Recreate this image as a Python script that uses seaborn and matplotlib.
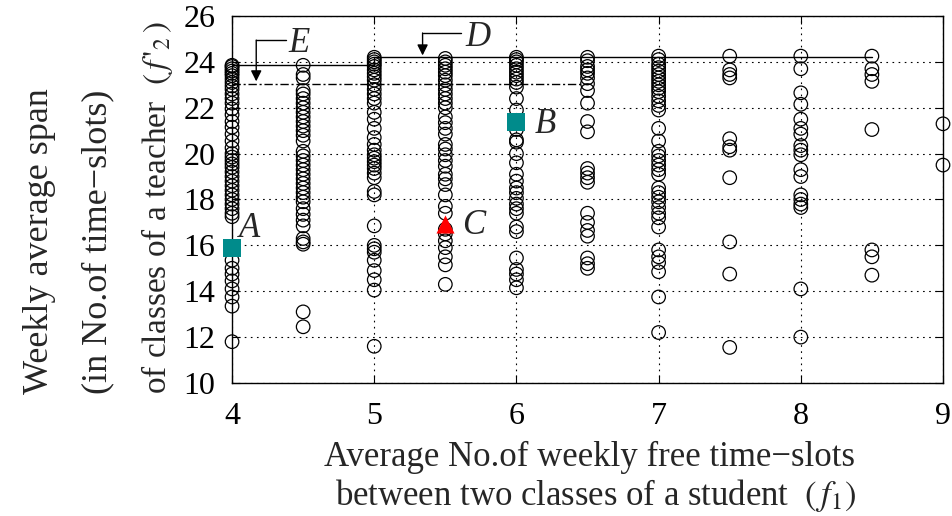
import numpy as np
import pandas as pd
import matplotlib
matplotlib.use("Agg")
import matplotlib.pyplot as plt
import seaborn as sns

# ---------------- data ----------------
f1_levels = [4, 4.5, 5, 5.5, 6, 6.5, 7, 7.5, 8, 8.5, 9]

span_4 = [23.85, 23.8, 23.7, 23.6, 23.5, 23.4, 23.25, 23.1, 22.95, 22.8, 22.6, 22.4,
          22.2, 21.95, 21.7, 21.4, 21.15, 20.85, 20.55, 20.25, 20.0, 19.85, 19.7,
          19.55, 19.4, 19.2, 19.0, 18.8, 18.6, 18.4, 18.2, 18.0, 17.8, 17.6, 17.4,
          17.25, 15.35, 15.0, 14.75, 14.45, 14.1, 13.75, 13.35, 11.8]
span_4_5 = [23.85, 23.45, 23.3, 22.75, 22.6, 22.4, 22.2, 22.0, 21.8, 21.6, 21.4, 21.2,
            21.0, 20.8, 20.55, 20.1, 19.9, 19.7, 19.5, 19.3, 19.1, 18.9, 18.7, 18.5,
            18.3, 18.1, 17.9, 17.6, 17.35, 17.1, 16.85, 16.3, 16.15, 16.05, 13.1, 12.45]
span_5 = [24.2, 24.1, 24.0, 23.9, 23.8, 23.65, 23.5, 23.35, 23.2, 23.0, 22.8, 22.6,
          22.4, 22.2, 21.8, 21.5, 21.1, 20.7, 20.4, 20.15, 19.95, 19.8, 19.65, 19.5,
          19.35, 19.15, 18.95, 18.35, 18.2, 16.85, 16.0, 15.85, 15.7, 15.35, 14.9,
          14.5, 14.05, 11.6]
span_5_5 = [24.15, 24.0, 23.85, 23.7, 23.55, 23.4, 23.2, 23.0, 22.8, 22.6, 22.4, 22.2,
            22.0, 21.6, 21.35, 21.1, 20.85, 20.4, 20.2, 19.95, 19.7, 19.45, 19.1,
            18.9, 18.65, 18.2, 17.7, 17.4, 16.7, 16.5, 16.2, 15.9, 15.5, 15.15, 14.3]
span_6 = [24.2, 24.1, 24.0, 23.85, 23.7, 23.55, 23.4, 23.25, 23.1, 22.9, 22.4, 21.9,
          21.05, 20.6, 20.5, 20.0, 19.6, 19.1, 18.8, 18.5, 18.3, 18.05, 17.8, 17.6,
          17.4, 16.8, 16.6, 15.45, 14.95, 14.75, 14.5, 14.15]
span_6_5 = [24.2, 24.05, 23.8, 23.65, 23.5, 23.3, 23.05, 22.75, 22.2, 21.4, 20.95,
            19.35, 19.15, 18.95, 18.75, 17.4, 17.0, 16.65, 16.4, 15.45, 15.2, 15.0]
span_7 = [24.25, 24.1, 23.9, 23.75, 23.6, 23.45, 23.3, 23.15, 23.0, 22.85, 22.7, 22.5,
          22.3, 22.1, 21.9, 21.1, 20.55, 20.1, 19.9, 19.7, 19.5, 19.3, 19.1, 18.5,
          18.3, 18.1, 17.9, 17.65, 17.4, 17.2, 16.8, 15.8, 15.5, 15.25, 14.85, 13.75,
          12.2]
span_7_5 = [24.25, 23.65, 23.45, 23.3, 20.65, 20.3, 20.15, 18.95, 16.15, 14.75, 11.55]
span_8 = [24.25, 23.7, 22.65, 22.15, 21.5, 21.1, 20.85, 20.35, 20.15, 19.95, 19.3,
          19.0, 18.2, 18.0, 17.8, 17.65, 14.1, 12.0]
span_8_5 = [24.25, 23.7, 23.45, 23.15, 21.05, 15.8, 15.5, 14.7]
span_9 = [21.3, 19.5]

# highlighted solutions A, B (squares) and C (triangle)
square_f1 = [4, 6]
square_span = [15.9, 21.4]
triangle_f1 = [5.5]
triangle_span = [16.95]

# reference lines D (solid step) and E (dash-dot)
line_D_f1 = [4, 5, 5, 8.5]
line_D_span = [23.85, 23.85, 24.2, 24.2]
line_E_f1 = [4, 6.5]
line_E_span = [23.05, 23.05]

x_ticks = [4, 5, 6, 7, 8, 9]
y_ticks = [10, 12, 14, 16, 18, 20, 22, 24, 26]

# ---------------- build long table ----------------
columns = [span_4, span_4_5, span_5, span_5_5, span_6, span_6_5, span_7,
           span_7_5, span_8, span_8_5, span_9]
df = pd.DataFrame({
    "f1": np.concatenate([[lv] * len(c) for lv, c in zip(f1_levels, columns)]),
    "f2": np.concatenate(columns),
})
df_sq = pd.DataFrame({"f1": square_f1, "f2": square_span})
df_tri = pd.DataFrame({"f1": triangle_f1, "f2": triangle_span})

# ---------------- style ----------------
sns.set_theme(style="ticks")
plt.rcParams["font.family"] = ["Liberation Serif", "DejaVu Serif"]
plt.rcParams["mathtext.fontset"] = "stix"

fig = plt.figure(figsize=(9.53, 5.16), dpi=100)
ax = fig.add_axes([0.2435, 0.2578, 0.7460, 0.7112])

sns.scatterplot(data=df, x="f1", y="f2", ax=ax, marker="o", s=95,
                facecolors="none", edgecolor="black", linewidth=0.9,
                clip_on=False, zorder=3, legend=False)
sns.scatterplot(data=df_sq, x="f1", y="f2", ax=ax, marker="s", s=150,
                color="#008b8b", edgecolor="#008b8b", linewidth=0,
                clip_on=False, zorder=4, legend=False)
sns.scatterplot(data=df_tri, x="f1", y="f2", ax=ax, marker="^", s=170,
                color="#ff0000", edgecolor="#ff0000", linewidth=0,
                clip_on=False, zorder=4, legend=False)

sns.lineplot(x=line_D_f1, y=line_D_span, ax=ax, color="black", linewidth=1.0,
             sort=False, estimator=None, zorder=2)
sns.lineplot(x=line_E_f1, y=line_E_span, ax=ax, color="black", linewidth=1.0,
             linestyle=(0, (6, 2, 1.5, 2)), sort=False, estimator=None, zorder=2)

ax.set_xlim(4, 9)
ax.set_ylim(10, 26)
ax.set_xticks(x_ticks)
ax.set_yticks(y_ticks)
ax.set_xticklabels([str(t) for t in x_ticks])
ax.set_yticklabels([str(t) for t in y_ticks])
ax.tick_params(axis="both", direction="in", length=6, width=0.8, colors="black",
               labelsize=23, top=True, right=True)
ax.tick_params(axis="x", pad=14)
ax.tick_params(axis="y", pad=12)
ax.grid(True, color="black", linestyle=(0, (1.5, 4)), linewidth=0.8)
ax.set_axisbelow(True)
for sp in ax.spines.values():
    sp.set_linewidth(1.0)
    sp.set_color("black")
ax.set_xlabel("")
ax.set_ylabel("")

# point labels
ax.text(4.12, 16.75, "A", fontsize=25, style="italic", ha="center", va="center")
ax.text(6.2, 21.25, "B", fontsize=25, style="italic", ha="center", va="center")
ax.text(5.7, 16.85, "C", fontsize=25, style="italic", ha="center", va="center")

# E arrow
ax.plot([4.38, 4.17], [24.95, 24.95], color="black", lw=1.0)
ax.annotate("", xy=(4.17, 23.15), xytext=(4.17, 24.95),
            arrowprops=dict(arrowstyle="-|>", color="black", lw=1.0,
                            mutation_scale=16, shrinkA=0, shrinkB=0))
ax.text(4.47, 24.8, "E", fontsize=25, style="italic", ha="center", va="center")
# D arrow
ax.plot([5.61, 5.34], [25.26, 25.26], color="black", lw=1.0)
ax.annotate("", xy=(5.34, 24.28), xytext=(5.34, 25.26),
            arrowprops=dict(arrowstyle="-|>", color="black", lw=1.0,
                            mutation_scale=16, shrinkA=0, shrinkB=0))
ax.text(5.73, 25.05, "D", fontsize=25, style="italic", ha="center", va="center")

# axis labels
fig.text(590 / 953, 1 - 457 / 516, "Average No.of weekly free time\u2212slots",
         fontsize=25, ha="center", va="center")
fig.text(596 / 953, 1 - 496 / 516,
         r"between two classes of a student  $(\,f_{1})$",
         fontsize=25, ha="center", va="center")
fig.text(40 / 953, 1 - 394 / 516, "Weekly average span",
         fontsize=26, rotation=90, ha="center", va="bottom")
fig.text(98 / 953, 1 - 394 / 516, "(in No.of time\u2212slots)",
         fontsize=26, rotation=90, ha="center", va="bottom")
fig.text(157 / 953, 1 - 394 / 516,
         r"of classes of a teacher  $(\,f\,'_{2}\,)$",
         fontsize=24, rotation=90, ha="center", va="bottom")

fig.savefig("out.png", dpi=100)
